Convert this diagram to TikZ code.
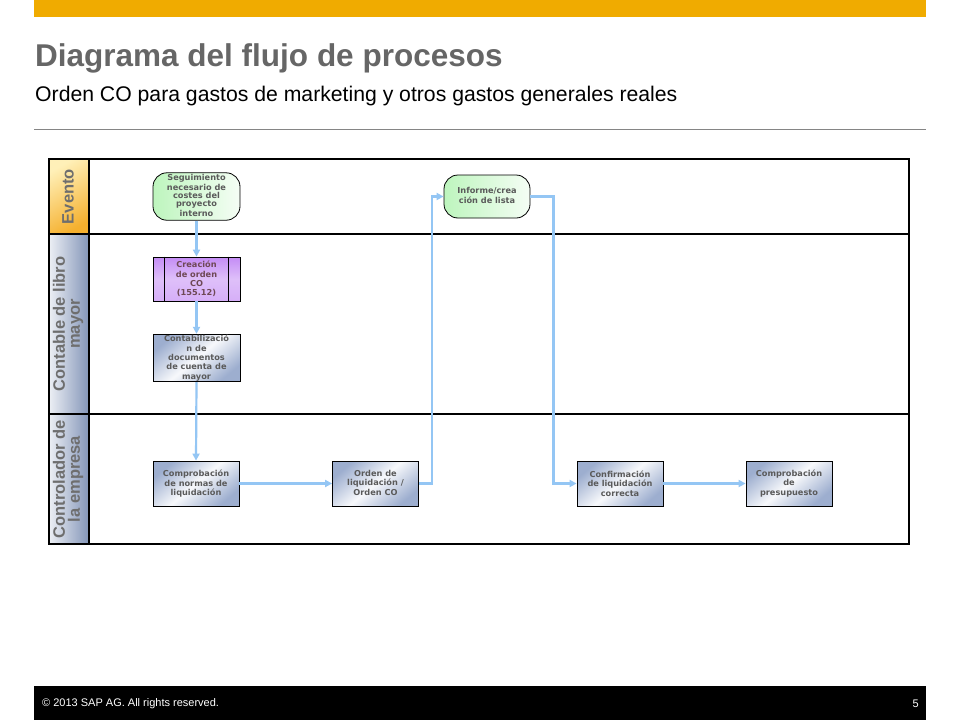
\documentclass[tikz,border=0pt]{standalone}
\usepackage{fontspec}
\setmainfont{Liberation Sans}
\newfontfamily\boxfont{DejaVu Sans}
\usetikzlibrary{arrows.meta}
\definecolor{sapgold}{HTML}{F0AB00}
\definecolor{titlegray}{HTML}{666666}
\definecolor{lanegray}{HTML}{6E6E6E}
\definecolor{boxtext}{HTML}{5A5A5A}
\definecolor{flowblue}{HTML}{94C6F4}
\definecolor{boxblue}{HTML}{9DAECF}
\definecolor{laneblue}{HTML}{8395B8}
\definecolor{laneorange}{HTML}{F5B02E}
\definecolor{lanelightor}{HTML}{FFF0B8}
\definecolor{greenfill}{HTML}{BDF5BD}
\definecolor{purplefill}{HTML}{C48CF5}
\tikzset{
  proc/.style={draw=black, line width=0.8pt, minimum width=86pt, minimum height=45pt,
    inner sep=1pt, align=center, text=boxtext,
    font=\boxfont\bfseries\fontsize{8.2}{9.3}\selectfont,
    top color=boxblue, bottom color=boxblue, middle color=white!92!boxblue, shading angle=40},
  evt/.style={draw=black, line width=0.8pt, minimum width=87pt, minimum height=43pt,
    rounded corners=14pt, inner sep=1pt, align=center, text=boxtext,
    font=\boxfont\bfseries\fontsize{8.2}{9.3}\selectfont,
    left color=greenfill, right color=white!85!greenfill},
  subproc/.style={draw=black, line width=0.8pt, minimum width=87pt, minimum height=44pt,
    inner sep=1pt, align=center, text=boxtext!80!purple,
    font=\boxfont\bfseries\fontsize{8.2}{9.3}\selectfont,
    top color=purplefill, bottom color=purplefill!70!white, middle color=purplefill!55!white},
  flow/.style={draw=flowblue, line width=2.2pt, -{Triangle[length=7pt,width=7pt]}},
  lanehead/.style={draw=black, line width=2.5pt},
  lanetext/.style={text=lanegray, font=\bfseries\fontsize{16.5}{16}\selectfont, align=center, rotate=90}
}
\begin{document}
\begin{tikzpicture}[x=1pt,y=-1pt]
\useasboundingbox (0,0) rectangle (960,720);
\fill[white] (0,0) rectangle (960,720);
% header
\fill[sapgold] (34,0) rectangle (926,17);
\node[anchor=base west, inner sep=0, text=titlegray, font=\bfseries\fontsize{31.5}{32}\selectfont] (title) at (35,66) {Diagrama del flujo de procesos};
\node[anchor=base west, inner sep=0, text=black, font=\fontsize{21.2}{22}\selectfont] (subtitle) at (35,101) {Orden CO para gastos de marketing y otros gastos generales reales};
\draw[titlegray!80, line width=1pt] (34,129) -- (926,129);
% footer
\fill[black] (34,686) rectangle (926,720);
\node[anchor=west, inner sep=0, text=white, font=\fontsize{11}{11}\selectfont] (copy) at (42,704) {\textcopyright\ 2013 SAP AG. All rights reserved.};
\node[anchor=east, inner sep=0, text=white, font=\fontsize{11}{11}\selectfont] (page) at (919,704) {5};
% lane headers
\shade[top color=lanelightor, bottom color=laneorange, shading angle=30] (49,159) rectangle (89,234);
\shade[left color=white!85!laneblue, right color=laneblue] (49,234) rectangle (89,414);
\shade[left color=white!85!laneblue, right color=laneblue] (49,414) rectangle (89,544);
\node[lanetext] (l1) at (68,196.5) {Evento};
\node[lanetext] (l2) at (68,324) {Contable de libro\\[-1pt]mayor};
\node[lanetext] (l3) at (68,479) {Controlador de\\[-1pt]la empresa};
% lanes frame
\draw[lanehead] (49,159) rectangle (909,544);
\draw[lanehead] (49,234) -- (909,234);
\draw[lanehead] (49,414) -- (909,414);
\draw[lanehead] (89,159) -- (89,544);
% nodes
\node[evt] (seg) at (196.5,196.5) {\raisebox{3pt}{\shortstack{Seguimiento\\[-1pt]necesario de\\[-1pt]costes del\\[-1pt]proyecto\\[-1pt]interno}}};
\node[subproc] (cre) at (196.5,279) {Creación\\de orden\\CO\\(155.12)};
\draw[black, line width=0.8pt] ([xshift=12pt]cre.north west) -- ([xshift=12pt]cre.south west);
\draw[black, line width=0.8pt] ([xshift=-12pt]cre.north east) -- ([xshift=-12pt]cre.south east);
\node[proc, minimum width=87pt, minimum height=44pt] (cont) at (196.5,358) {Contabilizació\\n de\\documentos\\de cuenta de\\mayor};
\node[proc] (comp) at (196,483.5) {\raisebox{2pt}{\shortstack{Comprobación\\[-1pt]de normas de\\[-1pt]liquidación}}};
\node[proc] (ord) at (375.5,483.5) {\raisebox{1pt}{\shortstack{Orden de\\[-1pt]liquidación /\\[-1pt]Orden CO}}};
\node[proc] (conf) at (620,483.5) {Confirmación\\de liquidación\\correcta};
\node[proc] (pres) at (789,483.5) {Comprobación\\de\\presupuesto};
\node[evt, minimum width=86pt] (inf) at (487,196.5) {\raisebox{2pt}{\shortstack{Informe/crea\\[-1pt]ción de lista}}};
% connectors
\draw[flow] (seg.south) -- (cre.north);
\draw[flow] (cre.south) -- (cont.north);
\draw[flow] (cont.south) -- (comp.north);
\draw[flow] (comp.east) -- (ord.west);
\draw[flow] (ord.east) -- ++(13,0) |- (inf.west);
\draw[flow] (inf.east) -- ++(23,0) |- (conf.west);
\draw[flow] (conf.east) -- (pres.west);
\end{tikzpicture}
\end{document}
